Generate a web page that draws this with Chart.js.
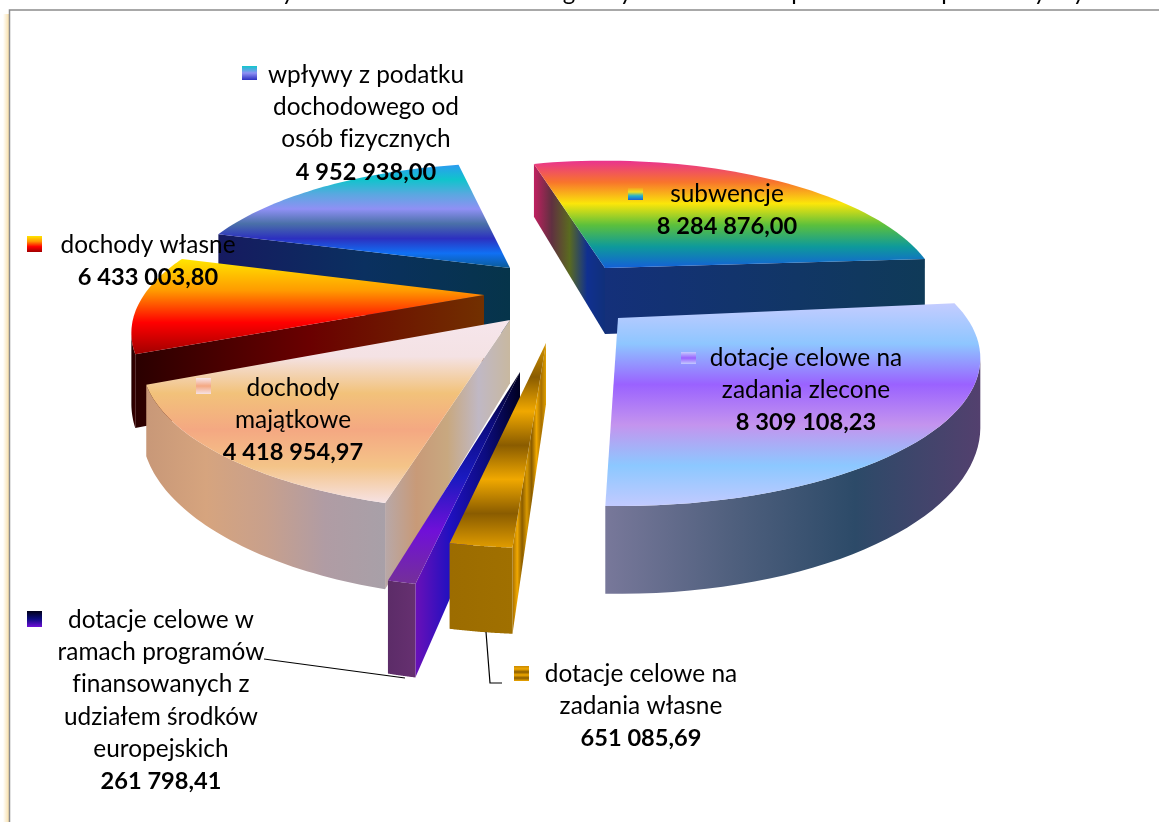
<!DOCTYPE html>
<html>
<head>
<meta charset="utf-8">
<title>Dochody</title>
<script src="https://cdn.jsdelivr.net/npm/chart.js@4"></script>
<style>
    html, body { margin: 0; padding: 0; background: #fff; }
    canvas { display: block; }
</style>
</head>
<body>
<canvas id="myChart" width="1159" height="822"></canvas>
<script>
const categories = [
    'subwencje',
    'dotacje celowe na zadania zlecone',
    'dotacje celowe na zadania własne',
    'dotacje celowe w ramach programów finansowanych z udziałem środków europejskich',
    'dochody majątkowe',
    'dochody własne',
    'wpływy z podatku dochodowego od osób fizycznych'
];
const values = [8284876.00, 8309108.23, 651085.69, 261798.41, 4418954.97, 6433003.80, 4952938.00];
const labelLines = [
    ['subwencje'],
    ['dotacje celowe na', 'zadania zlecone'],
    ['dotacje celowe na', 'zadania własne'],
    ['dotacje celowe w', 'ramach programów', 'finansowanych z', 'udziałem środków', 'europejskich'],
    ['dochody', 'majątkowe'],
    ['dochody własne'],
    ['wpływy z podatku', 'dochodowego od', 'osób fizycznych']
];

// look of the 3d pie: perspective, depth, and per slice tweaks
const perspective = 0.27, flatten = 0.393, depth = 0.19;
const sliceView = [
    { dx: 25.5, dy: -143, spin: 5.1, stretch: 1.137, radius: 0.94, flat: 1.05, drop: 1 },
    { dx: 38.5, dy: -93, spin: 12.85, stretch: 1.09, radius: 1.005, flat: 1, drop: 0.97 },
    { dx: -33.5, dy: -68, spin: 19.05, stretch: 1, radius: 1.07, flat: 1, drop: 0.93 },
    { dx: -59.5, dy: -39, spin: 19.4, stretch: 1.06, radius: 1.115, flat: 1, drop: 1 },
    { dx: -69.5, dy: -91, spin: 21.95, stretch: 1.06, radius: 1.02, flat: 1, drop: 0.96 },
    { dx: -95.5, dy: -116, spin: 9.75, stretch: 0.58, radius: 0.98, flat: 1, drop: 1 },
    { dx: -69.5, dy: -143, spin: -1.25, stretch: 1.17, radius: 0.935, flat: 1.03, drop: 1 }
];
const topFills = [
    ['#e9338f', '#f8742c', '#fbe60a', '#5cc03c', '#0e9a9a', '#1460d8'],
    ['#c4ccff', '#8ec6ff', '#9a62ff', '#c494ee', '#8cc8ff', '#c2caff'],
    ['#d49400', '#8a5c00', '#f0a800', '#8a5c00', '#f0a800', '#8a5c00', '#e09c00'],
    ['#000018', '#0c0c80', '#1a1ac0', '#7010d8', '#743098'],
    ['#f6e6ec', '#f4e2e4', '#f2c27a', '#f4a882', '#f4c488', '#f6e2e4'],
    ['#ffe600', '#ff9a00', '#ff0000', '#a00000'],
    ['#2c9cf0', '#10c4cc', '#5aa8e0', '#8f90f4', '#4a70a8', '#2c30c0', '#1070f4', '#0a5c98']
];
const rimFills = [
    ['#14206a', '#0f3a58'],
    ['#78789a', '#50607e', '#2c4a68', '#53406e'],
    ['#9c6c00', '#a07000'],
    ['#5c2c68', '#663070'],
    ['#c89878', '#d6a47e', '#c8a08c', '#b09ca4', '#a8a0a8'],
    ['#220000', '#3a0000'],
    ['#141c60', '#0a3050']
];
const startFills = [
    ['#c02060', '#603040', '#5a6a20', '#103090', '#10307a'],
    ['#505050', '#505050'],
    ['#a87000', '#f0a800', '#8a5c00', '#d89800', '#8a5c00', '#f0a800', '#a87000', '#e0a000'],
    ['#6a10b8', '#2010c0', '#0c0c80', '#000020'],
    ['#b8a8a8', '#c89a78', '#c8a880', '#c0b8c4', '#c8b8a0'],
    ['#2a0000', '#6a0000', '#723000'],
    ['#161a60', '#0a3060', '#06344a']
];
const endFills = [
    ['#14307a', '#0f3a58'],
    ['#505050', '#505050'],
    ['#a87000', '#a87000'],
    ['#5c2c68', '#5c2c68'],
    ['#c8b8a0', '#c8b8a0'],
    ['#723000', '#723000'],
    ['#06344a', '#06344a']
];
const drawOrder = [0, 6, 5, 4, 1, 3, 2];

const labelPlace = [
    { x: 727, y: 194, key: [628, 188, 15, 12], keyFill: ['#f4a020', '#f0e020', '#20b0d0', '#2060d0'] },
    { x: 806, y: 358, key: [681, 352, 15, 12], keyFill: ['#c4ccff', '#9a62ff', '#c2caff'] },
    { x: 641, y: 674, key: [514, 666, 15, 15], keyFill: ['#c98a00', '#f0a800', '#8a5c00', '#f0a800', '#8a5c00', '#f0a800'] },
    { x: 161, y: 620, key: [27, 611, 15, 16], keyFill: ['#000018', '#0c0c80', '#7010d8'] },
    { x: 293, y: 388, key: [196, 378, 15, 16], keyFill: ['#f6e6ec', '#f4a882', '#f6e2e4'] },
    { x: 148, y: 245, key: [27, 236, 15, 16], keyFill: ['#ffe600', '#ff9a00', '#ff0000', '#a00000'] },
    { x: 366, y: 75, key: [242, 66, 15, 14], keyFill: ['#10c8cc', '#8f90f4', '#2c30c0'] }
];
const leaderLines = [
    [[264, 659], [405, 678]],
    [[486, 632], [490, 683], [502, 683]]
];
const clippedTitle = [['y', 288], ['g', 569], ['y', 626], ['p', 798], ['p', 948], ['y', 1040], ['y', 1079]];

function formatPl(v) {
    const parts = v.toFixed(2).split('.');
    return parts[0].replace(/\B(?=(\d{3})+(?!\d))/g, ' ') + ',' + parts[1];
}

function spread(grad, colors) {
    colors.forEach((c, i) => grad.addColorStop(i / (colors.length - 1), c));
    return grad;
}

function fillPoly(ctx, pts, colors, vertical) {
    const xs = pts.map(p => p[0]), ys = pts.map(p => p[1]);
    const grad = vertical
        ? ctx.createLinearGradient(0, Math.min(...ys), 0, Math.max(...ys))
        : ctx.createLinearGradient(Math.min(...xs), 0, Math.max(...xs), 0);
    ctx.fillStyle = spread(grad, colors);
    ctx.beginPath();
    pts.forEach((p, i) => i ? ctx.lineTo(p[0], p[1]) : ctx.moveTo(p[0], p[1]));
    ctx.closePath();
    ctx.fill();
}

const pie3d = {
    id: 'pie3d',
    beforeDraw(chart) {
        const ctx = chart.ctx;
        ctx.save();
        const glow = ctx.createLinearGradient(3, 0, 9, 0);
        glow.addColorStop(0, '#ffffff');
        glow.addColorStop(1, '#f8dfa8');
        ctx.fillStyle = glow;
        ctx.fillRect(3, 14, 6, 808);
        ctx.strokeStyle = '#8c8c8c';
        ctx.lineWidth = 1.5;
        ctx.beginPath();
        ctx.moveTo(9.5, 822);
        ctx.lineTo(9.5, 10);
        ctx.lineTo(1159, 10);
        ctx.stroke();
        ctx.restore();
    },
    afterDatasetsDraw(chart) {
        const ctx = chart.ctx;
        const arcs = chart.getDatasetMeta(0).data;
        ctx.save();
        drawOrder.forEach(i => drawSlice(ctx, arcs[i], sliceView[i], i));
        ctx.restore();
    },
    afterDraw(chart) {
        const ctx = chart.ctx;
        ctx.save();
        ctx.fillStyle = '#000';
        ctx.textAlign = 'center';
        ctx.textBaseline = 'middle';
        // tiny spacing also switches off the fi ligature
        ctx.letterSpacing = '0.01px';
        labelLines.forEach((lines, i) => {
            const place = labelPlace[i];
            const k = place.key;
            ctx.font = '24.4px Lato';
            lines.forEach((line, n) => ctx.fillText(line, place.x, place.y + n * 32.3));
            ctx.font = 'bold 23.6px Lato';
            ctx.fillText(formatPl(values[i]), place.x, place.y + lines.length * 32.3);
            ctx.fillStyle = spread(ctx.createLinearGradient(0, k[1], 0, k[1] + k[3]), place.keyFill);
            ctx.fillRect(k[0], k[1], k[2], k[3]);
            ctx.fillStyle = '#000';
        });
        ctx.strokeStyle = '#000';
        ctx.lineWidth = 1.2;
        leaderLines.forEach(line => {
            ctx.beginPath();
            line.forEach((p, n) => n ? ctx.lineTo(p[0], p[1]) : ctx.moveTo(p[0], p[1]));
            ctx.stroke();
        });
        ctx.font = '24px Lato';
        ctx.textBaseline = 'alphabetic';
        clippedTitle.forEach(t => ctx.fillText(t[0], t[1], 0));
        ctx.restore();
    }
};

function drawSlice(ctx, arc, view, i) {
    const mid = (arc.startAngle + arc.endAngle) / 2;
    const spin = view.spin * Math.PI / 180;
    const angle = a => mid + spin + (a - mid) * view.stretch;
    const R = arc.outerRadius;

    const project = (X, Y, down) => {
        const w = 1 / (1 - perspective * Y);
        return [
            arc.x + view.dx + R * X * w,
            arc.y + view.dy + R * (flatten * view.flat * Y + (down ? depth * view.drop : 0)) * w
        ];
    };
    const rimPoint = (a, down) => project(view.radius * Math.cos(a), view.radius * Math.sin(a), down);

    const steps = 48;
    const from = angle(arc.startAngle), to = angle(arc.endAngle);
    const rim = [];
    for (let s = 0; s <= steps; s++) {
        rim.push(from + (to - from) * s / steps);
    }

    // walls only show where the outline runs right to left on screen
    const tip = project(0, 0, false), tipDown = project(0, 0, true);
    const first = rimPoint(from, false), last = rimPoint(to, false);
    if (last[0] > tip[0]) {
        fillPoly(ctx, [last, tip, tipDown, rimPoint(to, true)], endFills[i], false);
    }
    if (first[0] < tip[0]) {
        fillPoly(ctx, [tip, first, rimPoint(from, true), tipDown], startFills[i], false);
    }
    const upper = [], lower = [];
    rim.forEach((a, s) => {
        const p = rimPoint(a, false);
        const next = s < steps ? rimPoint(rim[s + 1], false) : null;
        const prev = s > 0 ? rimPoint(rim[s - 1], false) : null;
        if ((next && next[0] < p[0]) || (prev && p[0] < prev[0])) {
            upper.push(p);
            lower.unshift(rimPoint(a, true));
        }
    });
    if (upper.length > 1) {
        fillPoly(ctx, upper.concat(lower), rimFills[i], false);
    }
    fillPoly(ctx, [tip].concat(rim.map(a => rimPoint(a, false))), topFills[i], true);
}

const ctx = document.getElementById('myChart');

new Chart(ctx, {
    type: 'pie',
    data: {
        labels: categories,
        datasets: [{
            data: values,
            backgroundColor: 'rgba(0, 0, 0, 0)',
            borderWidth: 0
        }]
    },
    options: {
        responsive: false,
        animation: false,
        rotation: -14.7,
        layout: { padding: { top: 64, bottom: 64 } },
        plugins: {
            legend: { display: false },
            tooltip: { enabled: false }
        }
    },
    plugins: [pie3d]
});
</script>
</body>
</html>
